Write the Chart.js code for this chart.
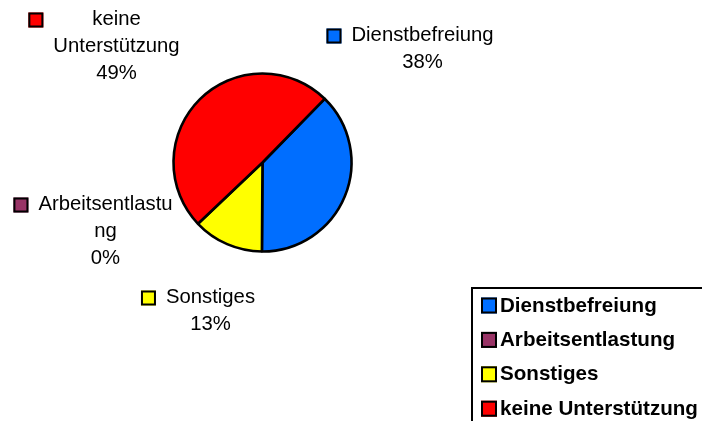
<!DOCTYPE html>
<html>
<head>
<meta charset="utf-8">
<script src="https://cdn.jsdelivr.net/npm/chart.js@4/dist/chart.umd.min.js"></script>
<style>
  html, body { margin: 0; padding: 0; background: #fff; }
  #wrap { position: relative; width: 702px; height: 421px; }
</style>
</head>
<body>
<div id="wrap"><canvas id="chart" width="702" height="421"></canvas></div>
<script>
// Werte (Anteile in %)
const CATEGORIES = ['Dienstbefreiung', 'Arbeitsentlastung', 'Sonstiges', 'keine Unterstützung'];
const VALUES = [37.8, 0, 12.8, 49.4];
const COLORS = ['#006eff', '#993366', '#ffff00', '#ff0000'];
// Zeilenumbrüche der Beschriftungen wie im Original
const LABEL_LINES = [['Dienstbefreiung'], ['Arbeitsentlastu', 'ng'], ['Sonstiges'], ['keine', 'Unterstützung']];

const FONT = '"Liberation Sans", Arial, sans-serif';

// Beschriftungen wurden im Original von Hand verschoben: Versatz der ersten Zeile zum Kreismittelpunkt
const LABEL_OFFSETS = [
  { dx: 160, dy: -127 },
  { dx: -157, dy: 42 },
  { dx: -52, dy: 135 },
  { dx: -146, dy: -143 }
];

function drawKey(ctx, x, y, size, color) {
  ctx.fillStyle = color;
  ctx.fillRect(x, y, size, size);
  ctx.lineWidth = 2;
  ctx.strokeStyle = '#000';
  ctx.strokeRect(x + 1, y + 1, size - 2, size - 2);
}

const labelPlugin = {
  id: 'outerLabels',
  afterDraw(chart) {
    const ctx = chart.ctx;
    const arc = chart.getDatasetMeta(0).data[0];
    const cx = arc.x, cy = arc.y;
    const total = VALUES.reduce((s, v) => s + v, 0);
    ctx.save();
    ctx.font = '20.3px ' + FONT;
    ctx.textAlign = 'center';
    ctx.textBaseline = 'middle';
    const lh = 27;
    VALUES.forEach((v, i) => {
      const lines = LABEL_LINES[i].concat([Math.round(v / total * 100) + '%']);
      const x = cx + LABEL_OFFSETS[i].dx;
      const y = cy + LABEL_OFFSETS[i].dy;
      const widest = Math.max(...lines.map(l => ctx.measureText(l).width));
      drawKey(ctx, x - widest / 2 - 25, y - 7, 15, COLORS[i]);
      ctx.fillStyle = '#000';
      lines.forEach((l, k) => ctx.fillText(l, x, y + k * lh));
    });

    // Legende unten rechts
    const lx = 472, ly = 288;
    ctx.lineWidth = 2;
    ctx.strokeStyle = '#000';
    ctx.strokeRect(lx, ly, 260, 160);
    ctx.font = 'bold 20.6px ' + FONT;
    ctx.textAlign = 'left';
    CATEGORIES.forEach((c, i) => {
      const ry = 305 + i * 34.4;
      drawKey(ctx, 481, ry - 7.5, 16, COLORS[i]);
      ctx.fillStyle = '#000';
      ctx.fillText(c, 500, ry + 1);
    });
    ctx.restore();
  }
};

new Chart(document.getElementById('chart'), {
  type: 'pie',
  data: {
    labels: CATEGORIES,
    datasets: [{
      data: VALUES,
      backgroundColor: COLORS,
      borderColor: '#000',
      borderWidth: 2.6,
      radius: 89
    }]
  },
  options: {
    responsive: false,
    animation: false,
    rotation: 44.3,
    layout: { padding: { left: 0, top: 0, right: 177, bottom: 96 } },
    plugins: {
      legend: { display: false },
      tooltip: { enabled: false }
    }
  },
  plugins: [labelPlugin]
});
</script>
</body>
</html>
